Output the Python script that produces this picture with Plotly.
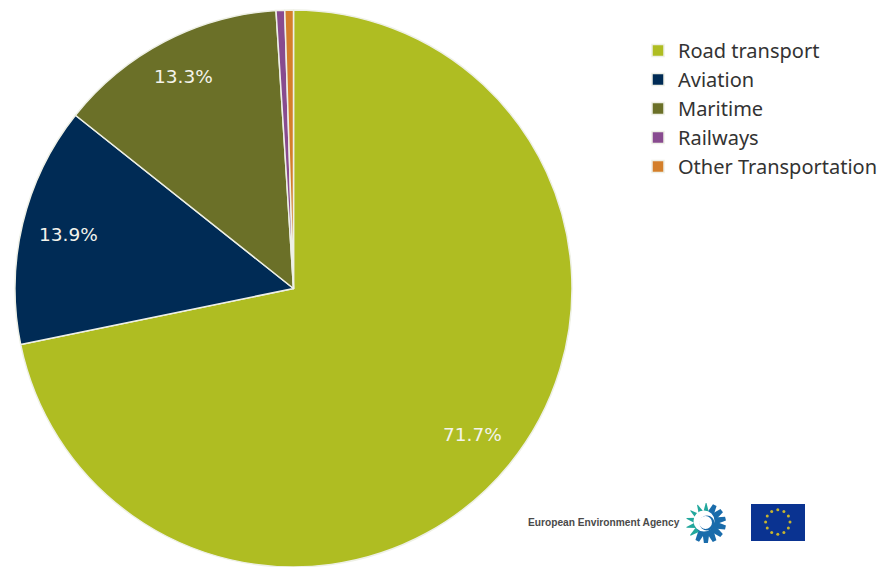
import math
import plotly.graph_objects as go

categories = ["Road transport", "Aviation", "Maritime", "Railways", "Other Transportation"]
shares = [71.7, 13.9, 13.3, 0.5, 0.5]
colors = ["#afbd22", "#002b55", "#6b7028", "#884b8f", "#d47f2a"]
label_radius = [0.83, 0.83, 0.857, None, None]

W, H = 888, 567
CX, CY, R = 293.5, 288.5, 278.5


def px(x):
    return x / W


def py(y):
    return 1 - y / H


def disc(x, y, r, fill):
    return dict(type="circle", xref="paper", yref="paper", x0=px(x - r), x1=px(x + r),
                y0=py(y + r), y1=py(y - r), fillcolor=fill, line=dict(width=0))


fig = go.Figure(
    go.Pie(
        labels=categories,
        values=shares,
        sort=False,
        direction="clockwise",
        rotation=0,
        textinfo="none",
        hoverinfo="label+percent",
        marker=dict(colors=colors, line=dict(color="#eef0e6", width=1.5)),
        domain=dict(x=[px(CX - R), px(CX + R)], y=[py(CY + R), py(CY - R)]),
    )
)

# Percentage labels sit near the rim of their slice
annotations = []
total = sum(shares)
running = 0.0
for share, rim in zip(shares, label_radius):
    mid = (running + share / 2) / total * 2 * math.pi
    running += share
    if rim is None:
        continue
    annotations.append(
        dict(
            x=px(CX + rim * R * math.sin(mid)),
            y=py(CY - rim * R * math.cos(mid)),
            xref="paper",
            yref="paper",
            xanchor="center",
            yanchor="middle",
            text=f"{share}%",
            showarrow=False,
            font=dict(family="DejaVu Sans", size=18.5, color="#f4f4ec"),
        )
    )

# Agency wordmark
annotations.append(
    dict(
        x=px(603.5),
        y=py(522),
        xref="paper",
        yref="paper",
        xanchor="center",
        yanchor="middle",
        text="<b>European Environment Agency</b>",
        showarrow=False,
        font=dict(family="Liberation Sans", size=10.2, color="#4a4a4a"),
    )
)

shapes = []

# Agency emblem: teal petals on the upper left, blue gear teeth on the lower right
EX, EY = 706, 523
for i in range(14):
    deg = 360 * i / 14 - 64
    a = math.radians(deg)
    teal = 130 < (deg % 360) < 296
    colour = "#22a79c" if teal else "#1a6cab"
    ux, uy = math.cos(a), math.sin(a)
    nx, ny = -uy, ux
    r0, r1 = 9.0, 20.0
    w0, w1 = (3.2, 0.4) if teal else (3.6, 2.0)
    pts = [
        (EX + ux * r0 + nx * w0, EY + uy * r0 + ny * w0),
        (EX + ux * r1 + nx * w1, EY + uy * r1 + ny * w1),
        (EX + ux * r1 - nx * w1, EY + uy * r1 - ny * w1),
        (EX + ux * r0 - nx * w0, EY + uy * r0 - ny * w0),
    ]
    path = "M" + " L".join(f"{px(p[0])},{py(p[1])}" for p in pts) + " Z"
    shapes.append(dict(type="path", path=path, xref="paper", yref="paper", fillcolor=colour, line=dict(width=0)))
shapes.append(disc(EX + 1, EY + 1, 11, "#1a6cab"))
shapes.append(disc(EX - 2, EY - 2, 10.5, "#ffffff"))
shapes.append(disc(EX + 1, EY, 7.5, "#1a6cab"))
shapes.append(disc(EX - 0.5, EY - 0.5, 6.5, "#ffffff"))

# EU flag with its circle of twelve stars
shapes.append(dict(type="rect", xref="paper", yref="paper", x0=px(751), x1=px(805), y0=py(541), y1=py(504),
                   fillcolor="#0a3391", line=dict(width=0)))
FX, FY, FR = 777.8, 522, 12.2
for i in range(12):
    a = 2 * math.pi * i / 12
    shapes.append(disc(FX + FR * math.sin(a), FY - FR * math.cos(a), 1.5, "#c8b52e"))

fig.update_layout(
    width=W,
    height=H,
    margin=dict(l=0, r=0, t=0, b=0),
    paper_bgcolor="#ffffff",
    annotations=annotations,
    shapes=shapes,
    showlegend=True,
    legend=dict(
        x=px(638),
        y=py(31),
        xanchor="left",
        yanchor="top",
        traceorder="normal",
        font=dict(family="Noto Sans", size=20, color="#333333"),
        bgcolor="rgba(0,0,0,0)",
    ),
)

fig.write_html("out.html")
